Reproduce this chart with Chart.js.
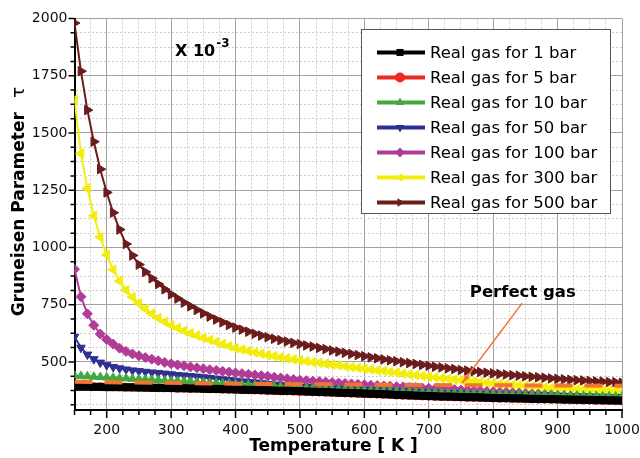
<!DOCTYPE html>
<html>
<head>
<meta charset="utf-8">
<title>Gruneisen Parameter</title>
<script src="https://cdn.jsdelivr.net/npm/chart.js@4.4.0/dist/chart.umd.min.js"></script>
<style>
  body { margin: 0; background: #fff; }
  #wrap { width: 640px; height: 458px; }
</style>
</head>
<body>
<div id="wrap"><canvas id="gruneisenChart" width="640" height="458"></canvas></div>
<script>
// Temperature [K], one point every 10 K
const temps = [
  150, 160, 170, 180, 190, 200, 210, 220, 230, 240,
  250, 260, 270, 280, 290, 300, 310, 320, 330, 340,
  350, 360, 370, 380, 390, 400, 410, 420, 430, 440,
  450, 460, 470, 480, 490, 500, 510, 520, 530, 540,
  550, 560, 570, 580, 590, 600, 610, 620, 630, 640,
  650, 660, 670, 680, 690, 700, 710, 720, 730, 740,
  750, 760, 770, 780, 790, 800, 810, 820, 830, 840,
  850, 860, 870, 880, 890, 900, 910, 920, 930, 940,
  950, 960, 970, 980, 990, 1000
];

// Gruneisen parameter (x 10^-3)
const gas1bar = [
  392, 392, 392, 391, 391, 390, 390, 390, 389, 389,
  388, 388, 387, 387, 386, 386, 385, 385, 384, 384,
  383, 382, 382, 381, 381, 380, 379, 378, 378, 377,
  376, 375, 374, 374, 373, 372, 371, 370, 369, 368,
  367, 366, 365, 364, 363, 362, 361, 360, 359, 358,
  356, 355, 354, 353, 352, 351, 350, 349, 349, 348,
  347, 346, 346, 345, 344, 343, 342, 342, 341, 341,
  340, 339, 339, 338, 338, 337, 336, 336, 335, 335,
  334, 333, 333, 332, 332, 331
];
const gas5bar = [
  393, 393, 393, 392, 392, 391, 391, 390, 390, 389,
  389, 388, 388, 387, 387, 386, 385, 385, 384, 384,
  383, 382, 382, 381, 380, 379, 378, 378, 377, 376,
  375, 374, 373, 373, 372, 371, 370, 369, 368, 367,
  366, 365, 364, 363, 362, 361, 360, 359, 358, 357,
  355, 354, 353, 352, 351, 350, 349, 348, 347, 347,
  346, 345, 344, 344, 343, 342, 341, 341, 340, 339,
  339, 338, 337, 337, 336, 336, 335, 334, 334, 333,
  333, 332, 331, 331, 330, 330
];
const gas10bar = [
  440, 438, 437, 435, 434, 432, 431, 429, 428, 426,
  425, 424, 422, 421, 419, 418, 417, 415, 414, 412,
  411, 409, 408, 406, 405, 403, 401, 400, 398, 397,
  395, 394, 392, 391, 389, 388, 386, 385, 384, 382,
  381, 380, 379, 377, 376, 375, 374, 373, 372, 371,
  370, 369, 368, 367, 366, 365, 364, 364, 363, 362,
  362, 361, 361, 360, 360, 359, 358, 358, 357, 357,
  356, 356, 355, 355, 354, 354, 353, 353, 352, 352,
  351, 351, 350, 350, 349, 349
];
const gas50bar = [
  610, 562, 532, 512, 497, 486, 478, 472, 467, 463,
  460, 457, 454, 452, 449, 446, 443, 441, 438, 436,
  433, 430, 427, 424, 421, 418, 415, 412, 410, 407,
  404, 401, 399, 396, 394, 392, 390, 389, 387, 386,
  384, 383, 381, 380, 378, 377, 376, 375, 373, 372,
  371, 370, 369, 368, 367, 366, 365, 364, 363, 363,
  362, 361, 360, 359, 359, 358, 357, 357, 356, 356,
  355, 354, 354, 353, 353, 352, 351, 351, 350, 350,
  349, 348, 348, 347, 347, 346
];
const gas100bar = [
  905, 785, 710, 660, 622, 598, 578, 560, 546, 535,
  527, 519, 512, 505, 498, 492, 487, 483, 478, 474,
  470, 466, 463, 459, 456, 452, 449, 446, 443, 440,
  437, 433, 430, 427, 423, 420, 418, 416, 414, 412,
  410, 408, 406, 404, 402, 400, 398, 397, 395, 394,
  392, 391, 389, 388, 386, 385, 383, 382, 380, 379,
  377, 376, 374, 373, 371, 370, 368, 367, 365, 364,
  362, 360, 359, 357, 356, 354, 353, 351, 350, 348,
  347, 346, 344, 343, 341, 340
];
const gas300bar = [
  1645, 1410, 1258, 1138, 1045, 968, 903, 853, 814, 783,
  756, 732, 711, 692, 675, 660, 648, 636, 625, 615,
  605, 596, 587, 578, 569, 560, 554, 548, 542, 536,
  530, 525, 520, 516, 511, 507, 503, 499, 496, 492,
  488, 485, 481, 477, 474, 470, 467, 463, 460, 456,
  453, 449, 446, 442, 439, 435, 432, 429, 426, 423,
  420, 418, 415, 412, 409, 406, 404, 402, 400, 398,
  396, 393, 391, 389, 387, 385, 384, 383, 381, 380,
  379, 378, 377, 375, 374, 373
];
const gas500bar = [
  1980, 1770, 1600, 1462, 1342, 1240, 1152, 1078, 1015, 965,
  925, 893, 865, 840, 817, 795, 777, 759, 743, 727,
  712, 698, 685, 673, 661, 650, 641, 632, 623, 615,
  608, 601, 595, 589, 583, 578, 572, 567, 561, 556,
  550, 545, 540, 535, 530, 525, 520, 516, 511, 507,
  503, 499, 495, 491, 487, 483, 479, 476, 472, 469,
  465, 462, 459, 456, 453, 450, 447, 445, 442, 440,
  437, 435, 433, 431, 428, 426, 424, 422, 420, 419,
  417, 415, 414, 412, 411, 409
];

const perfectTemps = [150, 400, 700, 1000];
const perfectGas = [413, 405, 399, 396];

const seriesNames = [
  'Real gas for 1 bar', 'Real gas for 5 bar', 'Real gas for 10 bar', 'Real gas for 50 bar',
  'Real gas for 100 bar', 'Real gas for 300 bar', 'Real gas for 500 bar'
];
const seriesValues = [gas1bar, gas5bar, gas10bar, gas50bar, gas100bar, gas300bar, gas500bar];
const xTickLabels = [200, 300, 400, 500, 600, 700, 800, 900, 1000];
const yTickLabels = [500, 750, 1000, 1250, 1500, 1750, 2000];

// styles
const colors = ['#000000', '#ee2a24', '#43a93f', '#2e3192', '#b03c98', '#f2ee0a', '#6b1c1c'];
const markers = ['rect', 'circle', 'triangle', 'triangle', 'rectRot', 'triangle', 'triangle'];
const rotations = [0, 0, 0, 180, 0, -90, 90];
const markerSizes = [5, 4, 5, 5, 5, 5.5, 5.5];
const orange = '#f07530';
const FONT = "'DejaVu Sans', sans-serif";

function toPoints(xs, ys) {
  return xs.map((x, i) => ({ x: x, y: ys[i] }));
}

function drawMarker(ctx, style, rot, x, y, r, color) {
  ctx.save();
  ctx.translate(x, y);
  ctx.rotate(rot * Math.PI / 180);
  ctx.fillStyle = color;
  ctx.beginPath();
  if (style === 'rect') {
    const s = r * Math.SQRT1_2;
    ctx.rect(-s, -s, 2 * s, 2 * s);
  } else if (style === 'circle') {
    ctx.arc(0, 0, r, 0, Math.PI * 2);
  } else if (style === 'rectRot') {
    ctx.moveTo(0, -r); ctx.lineTo(r, 0); ctx.lineTo(0, r); ctx.lineTo(-r, 0);
  } else {
    ctx.moveTo(0, -r);
    ctx.lineTo(r * 0.866, r * 0.5);
    ctx.lineTo(-r * 0.866, r * 0.5);
  }
  ctx.closePath();
  ctx.fill();
  ctx.restore();
}

// tick marks outside the frame, longer on labelled ticks
const outerTicks = {
  id: 'outerTicks',
  afterDraw(chart) {
    const { ctx, chartArea, scales: { x, y } } = chart;
    ctx.save();
    ctx.strokeStyle = '#000';
    ctx.lineWidth = 1.5;
    ctx.beginPath();
    x.ticks.forEach(t => {
      const px = x.getPixelForValue(t.value);
      const len = xTickLabels.includes(t.value) ? 8 : 5;
      ctx.moveTo(px, chartArea.bottom);
      ctx.lineTo(px, chartArea.bottom + len);
    });
    y.ticks.forEach(t => {
      const py = y.getPixelForValue(t.value);
      const len = yTickLabels.includes(t.value) ? 6 : 4;
      ctx.moveTo(chartArea.left, py);
      ctx.lineTo(chartArea.left - len, py);
    });
    ctx.stroke();
    ctx.restore();
  }
};

// legend box, titles and the text notes
const decorations = {
  id: 'decorations',
  afterDraw(chart) {
    const { ctx, chartArea, scales: { x, y } } = chart;
    ctx.save();

    // legend
    const lx = chartArea.right - 261, ly = chartArea.top + 10.5;
    ctx.fillStyle = '#fff';
    ctx.fillRect(lx, ly, 249, 184);
    ctx.strokeStyle = '#555';
    ctx.lineWidth = 1;
    ctx.strokeRect(lx + 0.5, ly + 0.5, 249, 184);
    ctx.font = '16.5px ' + FONT;
    ctx.textBaseline = 'middle';
    ctx.textAlign = 'left';
    seriesNames.forEach((name, i) => {
      const ry = ly + 23.5 + i * 25;
      ctx.strokeStyle = colors[i];
      ctx.lineWidth = 4;
      ctx.beginPath();
      ctx.moveTo(lx + 16, ry);
      ctx.lineTo(lx + 64, ry);
      ctx.stroke();
      drawMarker(ctx, markers[i], rotations[i], lx + 39, ry, 5, colors[i]);
      ctx.fillStyle = '#000';
      ctx.fillText(name, lx + 69, ry + 1);
    });

    // X 10^-3
    ctx.fillStyle = '#000';
    ctx.font = 'bold 16px ' + FONT;
    ctx.textAlign = 'left';
    const mx = x.getPixelForValue(306), my = y.getPixelForValue(1854);
    ctx.fillText('X 10', mx, my);
    const w = ctx.measureText('X 10').width;
    ctx.font = 'bold 12px ' + FONT;
    ctx.fillText('-3', mx + w + 1, my - 8);

    // perfect gas note with arrow
    ctx.font = 'bold 16.5px ' + FONT;
    ctx.textAlign = 'center';
    ctx.fillText('Perfect gas', x.getPixelForValue(846), y.getPixelForValue(801));
    const ax1 = x.getPixelForValue(845), ay1 = y.getPixelForValue(757);
    const ax2 = x.getPixelForValue(752), ay2 = y.getPixelForValue(408);
    const ang = Math.atan2(ay2 - ay1, ax2 - ax1);
    ctx.strokeStyle = orange;
    ctx.fillStyle = orange;
    ctx.lineWidth = 1.5;
    ctx.beginPath();
    ctx.moveTo(ax1, ay1);
    ctx.lineTo(ax2, ay2);
    ctx.stroke();
    ctx.beginPath();
    ctx.moveTo(ax2, ay2);
    ctx.lineTo(ax2 - 9 * Math.cos(ang - 0.3), ay2 - 9 * Math.sin(ang - 0.3));
    ctx.lineTo(ax2 - 9 * Math.cos(ang + 0.3), ay2 - 9 * Math.sin(ang + 0.3));
    ctx.closePath();
    ctx.fill();

    // axis titles
    ctx.fillStyle = '#000';
    ctx.font = 'bold 17px ' + FONT;
    ctx.textAlign = 'center';
    ctx.textBaseline = 'alphabetic';
    ctx.fillText('Temperature [ K ]', 333.5, 451);

    ctx.translate(19, (chartArea.top + chartArea.bottom) / 2);
    ctx.rotate(-Math.PI / 2);
    ctx.textBaseline = 'middle';
    ctx.fillText('Gruneisen Parameter', 0, 1);
    ctx.font = '18px ' + FONT;
    ctx.fillText('\u03c4', 122, 0);
    ctx.restore();
  }
};

function initializeChart() {
  const datasets = seriesValues.map((vals, i) => ({
    label: seriesNames[i],
    data: toPoints(temps, vals),
    borderColor: colors[i],
    backgroundColor: colors[i],
    borderWidth: 2,
    pointStyle: markers[i],
    pointRotation: rotations[i],
    pointRadius: markerSizes[i],
    pointBorderWidth: 1,
    pointBackgroundColor: colors[i],
    pointBorderColor: colors[i]
  }));
  datasets.push({
    label: 'Perfect gas',
    data: toPoints(perfectTemps, perfectGas),
    borderColor: orange,
    borderWidth: 4,
    borderDash: [18, 12],
    pointRadius: 0,
    order: -1
  });

  new Chart(document.getElementById('gruneisenChart'), {
    type: 'line',
    data: { datasets: datasets },
    options: {
      responsive: false,
      animation: false,
      layout: { padding: { left: 32.5, top: 18.5, right: 0, bottom: 20 } },
      plugins: {
        legend: { display: false },
        tooltip: { enabled: false }
      },
      scales: {
        x: {
          type: 'linear',
          min: 150,
          max: 1000,
          afterBuildTicks: scale => {
            const ticks = [];
            for (let v = 150; v <= 1000; v += 25) ticks.push({ value: v });
            scale.ticks = ticks;
          },
          afterFit: scale => {
            scale.height = 28;
            scale.paddingLeft = 0;
            scale.paddingRight = 18;
          },
          ticks: {
            autoSkip: false,
            maxRotation: 0,
            padding: 12,
            color: '#111',
            font: { family: FONT, size: 14 },
            callback: v => xTickLabels.includes(v) ? String(v) : ''
          },
          grid: {
            drawTicks: false,
            color: c => (c.tick && c.tick.value % 100 === 0) ? '#a89f9f' : '#d6c8c8',
            lineWidth: 1
          },
          border: {
            color: '#000',
            width: 2,
            dash: c => (c.tick && c.tick.value % 100 !== 0) ? [2, 2] : []
          }
        },
        y: {
          min: 290,
          max: 2000,
          afterBuildTicks: scale => {
            const ticks = [];
            for (let v = 312.5; v <= 2000; v += 62.5) ticks.push({ value: v });
            scale.ticks = ticks;
          },
          afterFit: scale => {
            scale.width = 42;
            scale.paddingTop = 0;
            scale.paddingBottom = 0;
          },
          ticks: {
            autoSkip: false,
            padding: 7,
            color: '#111',
            font: { family: FONT, size: 14 },
            callback: v => yTickLabels.includes(v) ? String(v) : ''
          },
          grid: {
            drawTicks: false,
            color: c => (c.tick && c.tick.value % 250 === 0) ? '#a89f9f' : '#d6c8c8',
            lineWidth: 1
          },
          border: {
            color: '#000',
            width: 2,
            dash: c => (c.tick && c.tick.value % 250 !== 0) ? [2, 2] : []
          }
        }
      }
    },
    plugins: [outerTicks, decorations]
  });
}

document.addEventListener('DOMContentLoaded', initializeChart);
</script>
</body>
</html>
